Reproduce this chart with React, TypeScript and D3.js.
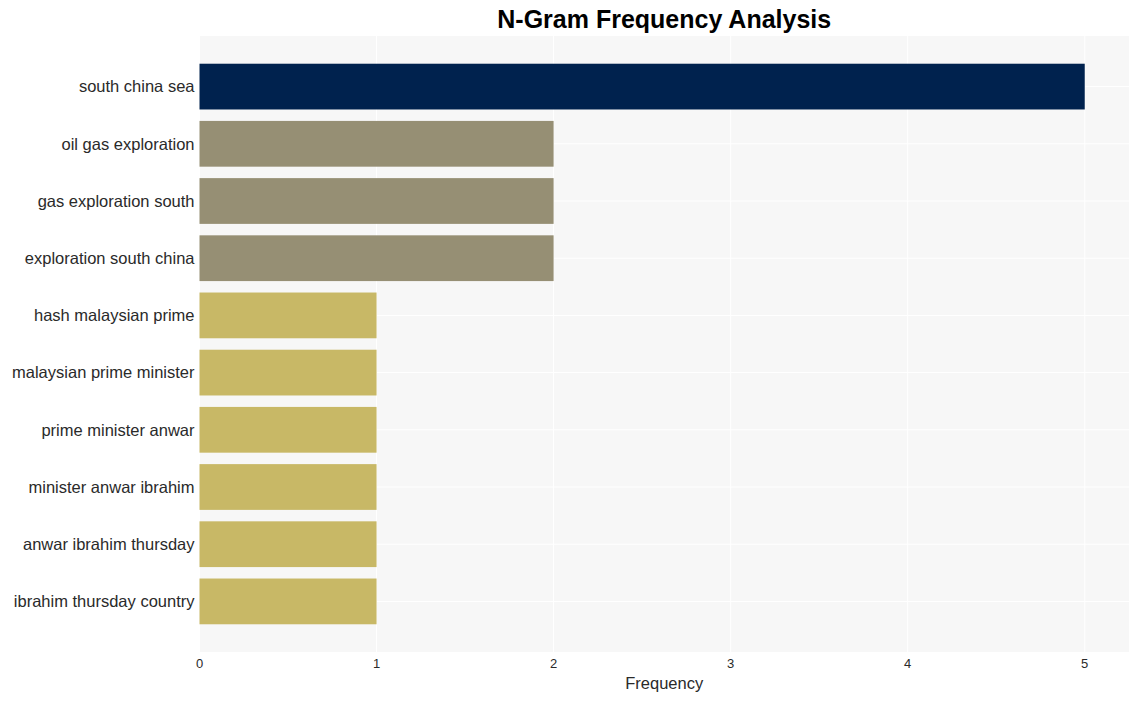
import React from 'react';
import * as d3 from 'd3';

const ngrams = [
  'south china sea',
  'oil gas exploration',
  'gas exploration south',
  'exploration south china',
  'hash malaysian prime',
  'malaysian prime minister',
  'prime minister anwar',
  'minister anwar ibrahim',
  'anwar ibrahim thursday',
  'ibrahim thursday country',
];
const counts = [5, 2, 2, 2, 1, 1, 1, 1, 1, 1];
const xTicks = [0, 1, 2, 3, 4, 5];

const width = 1139;
const height = 701;
const plot = { left: 199.5, right: 1129, top: 36, bottom: 652 };

const colorFor = (v: number) => (v >= 5 ? '#00224e' : v >= 2 ? '#968f74' : '#c8b866');

export default function App() {
  const x = d3.scaleLinear().domain([0, 5.25]).range([plot.left, plot.right]);
  const y = d3
    .scaleBand<string>()
    .domain(ngrams)
    .range([plot.top + 22, plot.bottom - 22])
    .paddingInner(0.2)
    .paddingOuter(0.1);

  const font = 'Arial, "Liberation Sans", Helvetica, sans-serif';

  return (
    <svg
      width={width}
      height={height}
      style={{ position: 'absolute', left: 0, top: 0, fontFamily: font }}
    >
      <rect width={width} height={height} fill="#ffffff" />
      <rect
        x={plot.left}
        y={plot.top}
        width={plot.right - plot.left}
        height={plot.bottom - plot.top}
        fill="#f7f7f7"
      />
      {/* grid */}
      {xTicks.map((t) => (
        <line
          key={'gx' + t}
          x1={x(t)}
          x2={x(t)}
          y1={plot.top}
          y2={plot.bottom}
          stroke="#ffffff"
          strokeWidth={1}
        />
      ))}
      {ngrams.map((n) => {
        const cy = (y(n) ?? 0) + y.bandwidth() / 2;
        return (
          <line
            key={'gy' + n}
            x1={plot.left}
            x2={plot.right}
            y1={cy}
            y2={cy}
            stroke="#ffffff"
            strokeWidth={1}
          />
        );
      })}
      {/* bars */}
      {ngrams.map((n, i) => (
        <rect
          key={n}
          x={x(0)}
          y={y(n)}
          width={x(counts[i]) - x(0)}
          height={y.bandwidth()}
          fill={colorFor(counts[i])}
        />
      ))}
      {/* y labels */}
      {ngrams.map((n) => (
        <text
          key={'yl' + n}
          x={plot.left - 5}
          y={(y(n) ?? 0) + y.bandwidth() / 2}
          dy="0.35em"
          textAnchor="end"
          fontSize={16.5}
          fill="#2a2a2a"
        >
          {n}
        </text>
      ))}
      {/* x ticks */}
      {xTicks.map((t) => (
        <text
          key={'xl' + t}
          x={x(t)}
          y={plot.bottom + 16}
          textAnchor="middle"
          fontSize={13}
          fill="#2a2a2a"
        >
          {t}
        </text>
      ))}
      <text
        x={(plot.left + plot.right) / 2}
        y={689}
        textAnchor="middle"
        fontSize={16.5}
        fill="#2a2a2a"
      >
        Frequency
      </text>
      <text
        x={(plot.left + plot.right) / 2}
        y={28}
        textAnchor="middle"
        fontSize={25}
        fontWeight="bold"
        fill="#000000"
      >
        N-Gram Frequency Analysis
      </text>
    </svg>
  );
}
